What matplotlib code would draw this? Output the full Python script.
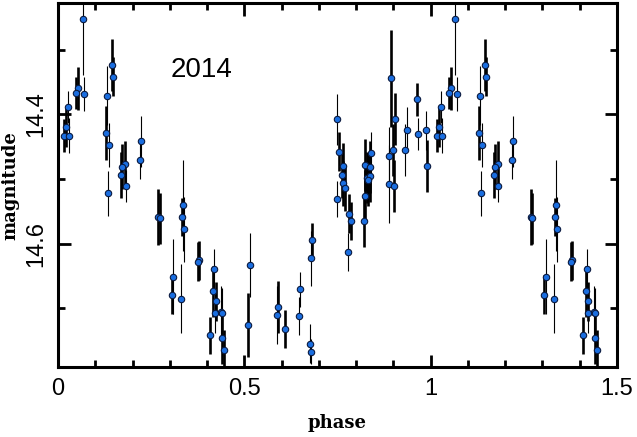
import numpy as np
import matplotlib
matplotlib.use("Agg")
import matplotlib.pyplot as plt

# light curve, phase folded (each point drawn at phase and phase + 1)
phase = [0.066, 0.054, 0.049, 0.070, 0.028, 0.022, 0.017, 0.030,
         0.145, 0.149, 0.132, 0.129, 0.137, 0.222, 0.219, 0.180,
         0.173, 0.170, 0.182, 0.134, 0.269, 0.273, 0.335, 0.333,
         0.338, 0.379, 0.376, 0.309, 0.305, 0.330, 0.420, 0.417,
         0.423, 0.422, 0.437, 0.441, 0.408, 0.440, 0.445, 0.514,
         0.511, 0.591, 0.588, 0.610, 0.649, 0.647, 0.682, 0.679,
         0.676, 0.679, 0.749, 0.749, 0.753, 0.766, 0.763, 0.766,
         0.770, 0.782, 0.786, 0.779, 0.839, 0.823, 0.836, 0.828,
         0.836, 0.833, 0.823, 0.822, 0.894, 0.904, 0.898, 0.888,
         0.889, 0.902, 0.964, 0.936, 0.932, 0.967, 0.988, 0.991]
mag = [14.252, 14.360, 14.367, 14.369, 14.389, 14.420, 14.433, 14.433,
       14.324, 14.342, 14.371, 14.429, 14.447, 14.442, 14.470, 14.477,
       14.481, 14.494, 14.511, 14.522, 14.559, 14.561, 14.541, 14.559,
       14.578, 14.626, 14.628, 14.651, 14.679, 14.685, 14.639, 14.674,
       14.689, 14.708, 14.706, 14.708, 14.742, 14.746, 14.764, 14.633,
       14.726, 14.698, 14.710, 14.732, 14.671, 14.712, 14.595, 14.623,
       14.755, 14.767, 14.531, 14.408, 14.458, 14.480, 14.494, 14.507,
       14.514, 14.554, 14.565, 14.613, 14.460, 14.478, 14.481, 14.498,
       14.495, 14.502, 14.526, 14.565, 14.344, 14.407, 14.455, 14.465,
       14.508, 14.511, 14.377, 14.424, 14.455, 14.431, 14.425, 14.480]
err = [0.087, 0.033, 0.025, 0.026, 0.025, 0.030, 0.025, 0.027,
       0.040, 0.030, 0.045, 0.042, 0.034, 0.040, 0.030, 0.035,
       0.035, 0.035, 0.025, 0.035, 0.043, 0.040, 0.070, 0.030,
       0.050, 0.030, 0.030, 0.058, 0.030, 0.054, 0.030, 0.040,
       0.030, 0.030, 0.040, 0.040, 0.028, 0.040, 0.030, 0.050,
       0.050, 0.040, 0.045, 0.030, 0.027, 0.030, 0.027, 0.042,
       0.030, 0.020, 0.028, 0.040, 0.030, 0.035, 0.035, 0.035,
       0.035, 0.030, 0.030, 0.030, 0.033, 0.040, 0.040, 0.040,
       0.040, 0.040, 0.040, 0.040, 0.075, 0.040, 0.040, 0.045,
       0.060, 0.040, 0.025, 0.035, 0.040, 0.025, 0.030, 0.040]
# 1 = heavy error bar, 0 = thin
heavy = [0, 1, 1, 0, 0, 1, 1, 0,
         1, 1, 0, 1, 0, 0, 0, 1,
         1, 1, 0, 0, 1, 1, 0, 1,
         0, 1, 1, 0, 1, 0, 0, 1,
         1, 0, 0, 0, 1, 1, 1, 0,
         1, 1, 0, 1, 0, 0, 1, 0,
         0, 0, 0, 0, 1, 1, 1, 1,
         1, 1, 1, 0, 0, 1, 1, 1,
         1, 1, 1, 1, 1, 1, 1, 0,
         0, 1, 1, 0, 0, 0, 0, 1]

xticks = [0, 0.5, 1, 1.5]
xtick_labels = ["0", "0.5", "1", "1.5"]
yticks = [14.4, 14.6]
ytick_labels = ["14.4", "14.6"]

phase = np.array(phase)
mag = np.array(mag)
err = np.array(err)
heavy = np.array(heavy, dtype=bool)

fig = plt.figure(figsize=(6.37, 4.37), dpi=100)
ax = fig.add_axes([0.091, 0.160, 0.8776, 0.833])

for shift in (0.0, 1.0):
    for sel, lw in ((~heavy, 0.8), (heavy, 1.9)):
        ax.errorbar(phase[sel] + shift, mag[sel], yerr=err[sel], fmt="none",
                    ecolor="black", elinewidth=lw, capsize=0, zorder=2)
    ax.plot(phase + shift, mag, "o", ms=4.6, mfc="#1a6ee0", mec="#0a1a40",
            mew=0.8, zorder=3)

ax.set_xlim(0, 1.5)
ax.set_ylim(14.791, 14.228)

ax.set_xticks(xticks)
ax.set_xticks(np.arange(1, 15) / 10, minor=True)
ax.set_yticks(yticks)
ax.set_yticks([14.3, 14.5, 14.7], minor=True)
ax.set_xticklabels(xtick_labels)
ax.set_yticklabels(ytick_labels, rotation=90, va="center")

for s in ax.spines.values():
    s.set_linewidth(2.2)
ax.tick_params(which="both", direction="in", top=True, right=True, width=2.0,
               labelsize=17)
ax.tick_params(which="major", length=9, pad=8)
ax.tick_params(which="minor", length=5)
for lab in ax.get_xticklabels() + ax.get_yticklabels():
    lab.set_family("Liberation Sans")

ax.set_xlabel("phase", family="DejaVu Serif", weight="bold", fontsize=13,
              labelpad=10)
ax.set_ylabel("magnitude", family="DejaVu Serif", weight="bold", fontsize=13,
              labelpad=4)

ax.text(0.302, 14.343, "2014", family="Liberation Sans", fontsize=20,
        ha="left", va="baseline")

fig.savefig("out.png", dpi=100)
